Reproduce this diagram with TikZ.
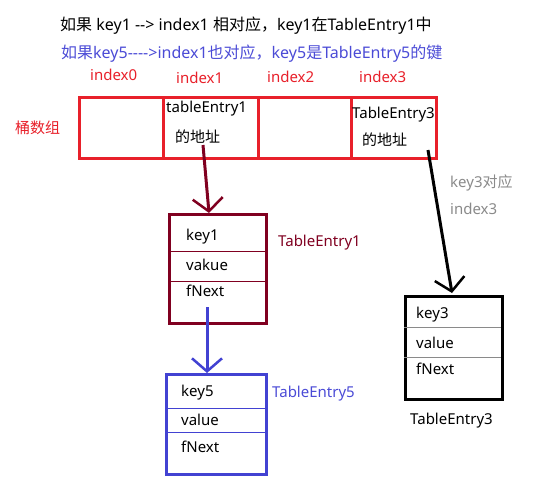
\documentclass[tikz,border=0pt]{standalone}
\usepackage{fontspec}
\setmainfont{Noto Sans}
\newfontfamily\cjk{Noto Sans CJK SC}
\usetikzlibrary{arrows.meta,calc}
\definecolor{bred}{HTML}{E8202A}
\definecolor{dred}{HTML}{800020}
\definecolor{eblue}{HTML}{4242D2}
\definecolor{tblue}{HTML}{4B4BD6}
\definecolor{lgray}{HTML}{8A8A8A}
\tikzset{
  cell/.style={draw=bred, line width=3pt, minimum height=61pt, inner sep=0pt, anchor=north west},
  entry/.style={line width=3pt, minimum width=97pt, minimum height=109pt, inner sep=0pt, anchor=north west},
  txt/.style={font=\fontsize{15}{17}\selectfont, inner sep=0pt, anchor=west},
  head/.style={font=\fontsize{16}{18}\selectfont, inner sep=0pt, anchor=west},
  barb/.style={-{Straight Barb[length=13pt,width=30pt,line width=2.5pt]}, line width=3pt},
}
\begin{document}
\begin{tikzpicture}[x=1pt,y=-1pt]
\useasboundingbox (0,0) rectangle (539,485);
% header texts
\node[head] (h1) at (60,26) {{\cjk 如果} key1 -{}-> index1 {\cjk 相对应，}key1{\cjk 在}TableEntry1{\cjk 中}};
\node[head, text=tblue] (h2) at (61,54) {{\cjk 如果}key5-{}-{}-{}->index1{\cjk 也对应，}key5{\cjk 是}TableEntry5{\cjk 的键}};
\node[txt, text=bred] (i0) at (90,75) {index0};
\node[txt, text=bred] (i1) at (176,78) {index1};
\node[txt, text=bred] (i2) at (267,77) {index2};
\node[txt, text=bred] (i3) at (359,77) {index3};
\node[txt, text=bred, font=\cjk\fontsize{15}{17}\selectfont] (arrlabel) at (15,128) {桶数组};
% bucket cells
\node[cell, minimum width=84pt] (c0) at (78,96) {};
\node[cell, minimum width=95pt] (c1) at (162,96) {};
\node[cell, minimum width=93pt] (c2) at (257,96) {};
\node[cell, minimum width=85pt] (c3) at (350,96) {};
\node[txt] (t1a) at (166,109) {tableEntry1};
\node[txt, font=\cjk\fontsize{15}{17}\selectfont] (t1b) at (175,137) {的地址};
\node[txt] (t3a) at (352,115) {TableEntry3};
\node[txt, font=\cjk\fontsize{15}{17}\selectfont] (t3b) at (362,140) {的地址};
% entry 1
\node[entry, draw=dred] (e1) at (168,213) {};
\draw[dred, line width=1pt] (168,251) -- (265,251) (168,281) -- (265,281);
\node[txt] (e1k) at (186,237) {key1};
\node[txt] (e1v) at (186,265) {vakue};
\node[txt] (e1n) at (186,291) {fNext};
\node[txt, text=dred] (e1l) at (278,243) {TableEntry1};
% entry 5
\node[entry, draw=eblue, minimum width=100pt, minimum height=100pt] (e5) at (165,373) {};
\draw[eblue, line width=1pt] (165,408) -- (265,408) (165,432) -- (267,432);
\node[txt] (e5k) at (181,393) {key5};
\node[txt] (e5v) at (181,420) {value};
\node[txt] (e5n) at (181,447) {fNext};
\node[txt, text=tblue] (e5l) at (272,394) {TableEntry5};
% entry 3
\node[entry, draw=black, minimum height=103pt] (e3) at (404,295) {};
\draw[lgray, line width=1pt] (404,327) -- (501,327) (404,357) -- (501,357);
\node[txt] (e3k) at (416,315) {key3};
\node[txt] (e3v) at (416,343) {value};
\node[txt] (e3n) at (416,369) {fNext};
\node[txt] (e3l) at (410,421) {TableEntry3};
\node[txt, text=lgray] (k3a) at (450,183) {key3{\cjk 对应}};
\node[txt, text=lgray] (k3b) at (450,209) {index3};
% arrows
\coordinate (a1s) at (203,145);
\coordinate (a5s) at (207,307);
\coordinate (a3s) at (428,150);
\draw[barb, dred] (a1s) -- ($(e1.north west)+(41,0)$);
\draw[barb, eblue] (a5s) -- ($(e5.north west)+(42,0)$);
\draw[barb, black] (a3s) -- ($(e3.north west)+(48,-2)$);
\end{tikzpicture}
\end{document}
